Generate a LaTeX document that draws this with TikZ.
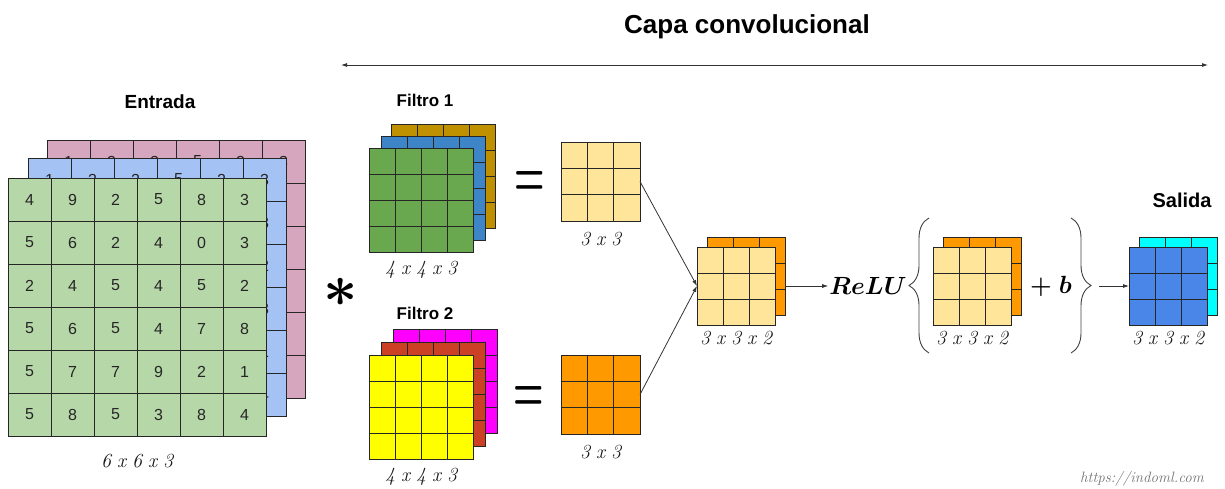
\documentclass[tikz,border=0pt]{standalone}
\usepackage{amsmath, bm}
\usepackage{fontspec}
\setsansfont{Liberation Sans}
\usetikzlibrary{arrows.meta, decorations.pathreplacing, positioning}

\definecolor{inGreen}{HTML}{B6D7A8}
\definecolor{inBlue}{HTML}{A4C2F4}
\definecolor{inPink}{HTML}{D5A6BD}
\definecolor{fGreen}{HTML}{6AA84F}
\definecolor{fBlue}{HTML}{3D85C6}
\definecolor{fGold}{HTML}{BF9000}
\definecolor{fYellow}{HTML}{FFFF00}
\definecolor{fRed}{HTML}{CC4125}
\definecolor{fMagenta}{HTML}{FF00FF}
\definecolor{mapLight}{HTML}{FFE599}
\definecolor{mapOrange}{HTML}{FF9900}
\definecolor{outCyan}{HTML}{00FFFF}
\definecolor{outBlue}{HTML}{4A86E8}

\newcommand{\dimsfont}{\itshape\fontsize{20}{20}\selectfont\spaceskip=6pt\relax}

% one square layer: name, left, top, cells, cell size, colour
\newcommand{\cnnlayer}[6]{%
    \node[fmap, fill=#6, minimum size=#4*#5pt] (#1) at (#2,#3) {};
    \pgfmathtruncatemacro{\lastline}{#4-1}
    \foreach \k in {1,...,\lastline} {
        \draw[gridline] ([xshift=\k*#5pt]#1.north west) -- ([xshift=\k*#5pt]#1.south west);
        \draw[gridline] ([yshift=-\k*#5pt]#1.north west) -- ([yshift=-\k*#5pt]#1.north east);
    }
}

\begin{document}
\begin{tikzpicture}[
        x=1pt, y=-1pt,
        fmap/.style = {draw=black!85, line width=0.9pt, inner sep=0pt, outer sep=0pt, anchor=north west},
        gridline/.style = {draw=black!85, line width=0.9pt},
        num/.style = {font=\sffamily\fontsize{16}{16}\selectfont, text=black!85, inner sep=0pt},
        heading/.style = {font=\sffamily\bfseries\fontsize{19}{19}\selectfont},
        dims/.style = {font=\dimsfont, text=black!90, inner sep=0pt},
        link/.style = {draw=black!80, line width=0.8pt, -{Latex[length=6pt, width=4pt]}},
        bothway/.style = {link, {Latex[length=6pt, width=4pt]}-{Latex[length=6pt, width=4pt]}},
        curly/.style = {draw=black!75, line width=0.9pt, decorate, decoration={brace, amplitude=20pt}},
        bigsym/.style = {inner sep=0pt, font=\fontsize{24}{24}\selectfont}
    ]
    \useasboundingbox (0,0) rectangle (1225,489);

    % titles
    \node[heading, font=\sffamily\bfseries\fontsize{26}{26}\selectfont] (capa) at (747,27) {Capa convolucional};
    \coordinate (capaL) at (341,65);
    \coordinate (capaR) at (1208,65);
    \draw[bothway] (capaL) -- (capaR);
    \node[heading] (entrada) at (160,102) {Entrada};
    \node[heading, font=\sffamily\bfseries\fontsize{17}{17}\selectfont] (filtro1) at (425,100) {Filtro 1};
    \node[heading, font=\sffamily\bfseries\fontsize{17}{17}\selectfont] (filtro2) at (425,313) {Filtro 2};
    \node[heading, font=\sffamily\bfseries\fontsize{20}{20}\selectfont] (salida) at (1182,200) {Salida};

    % input 6x6x3
    \cnnlayer{entrada3}{47}{140}{6}{43}{inPink}
    \foreach \v [count=\c] in {1,3,2,5,3,3}
        \node[num] (e3-\c) at ([xshift=(\c-0.5)*43pt, yshift=-21.5pt]entrada3.north west) {\v};
    \cnnlayer{entrada2}{28}{158}{6}{43}{inBlue}
    \foreach \v [count=\c] in {1,3,2,5,2,3}
        \node[num] (e2-\c) at ([xshift=(\c-0.5)*43pt, yshift=-21.5pt]entrada2.north west) {\v};
    \foreach \v [count=\r] in {3,2,3,1,4}
        \node[num] (e2r-\r) at ([xshift=-21.5pt, yshift=-(\r+0.5)*43pt]entrada2.north east) {\v};
    \cnnlayer{entrada1}{8}{178}{6}{43}{inGreen}
    \foreach \vals [count=\r] in {{4,9,2,5,8,3},{5,6,2,4,0,3},{2,4,5,4,5,2},{5,6,5,4,7,8},{5,7,7,9,2,1},{5,8,5,3,8,4}} {
        \foreach \v [count=\c] in \vals
            \node[num] (e1-\r-\c) at ([xshift=(\c-0.5)*43pt, yshift=-(\r-0.5)*43pt]entrada1.north west) {\v};
    }
    \node[dims, below=18pt of entrada1] (dimEntrada) {6 x 6 x 3};

    \node[bigsym] (conv) at (341,292) {\scalebox{2.4}{$\boldsymbol{\ast}$}};

    % filter 1
    \cnnlayer{filtroA3}{391}{124}{4}{26}{fGold}
    \cnnlayer{filtroA2}{381}{136}{4}{26}{fBlue}
    \cnnlayer{filtroA1}{369}{148}{4}{26}{fGreen}
    \node[dims, below=9pt of filtroA1] (dimFiltroA) {4 x 4 x 3};

    % filter 2
    \cnnlayer{filtroB3}{393}{329}{4}{26}{fMagenta}
    \cnnlayer{filtroB2}{381}{342}{4}{26}{fRed}
    \cnnlayer{filtroB1}{369}{355}{4}{26}{fYellow}
    \node[dims, below=9pt of filtroB1] (dimFiltroB) {4 x 4 x 3};

    \node[bigsym] (igualA) at (530,184) {\scalebox{1.4}[2.6]{$\boldsymbol{=}$}};
    \node[bigsym] (igualB) at (529,399) {\scalebox{1.4}[2.6]{$\boldsymbol{=}$}};

    % 3x3 results
    \cnnlayer{convA}{561}{142}{3}{26.33}{mapLight}
    \node[dims, below=11pt of convA] (dimConvA) {3 x 3};
    \cnnlayer{convB}{561}{355}{3}{26.33}{mapOrange}
    \node[dims, below=11pt of convB] (dimConvB) {3 x 3};

    % stacked 3x3x2
    \cnnlayer{pilaB}{707}{237}{3}{26}{mapOrange}
    \cnnlayer{pilaA}{697}{247}{3}{26}{mapLight}
    \node[dims, below=6pt of pilaA] (dimPila) {3 x 3 x 2};
    \draw[link] (convA.east) -- (pilaA.west);
    \draw[link] (convB.east) -- (pilaA.west);

    % activation
    \node[inner sep=1pt, font=\fontsize{24}{24}\selectfont] (relu) at (868,286) {$\boldsymbol{ReLU}$};
    \draw[link] (pilaA.east -| pilaB.east) -- (relu.west);
    \draw[curly] (929,353) -- (929,218);
    \cnnlayer{reluB}{943}{237}{3}{26}{mapOrange}
    \cnnlayer{reluA}{933}{247}{3}{26}{mapLight}
    \node[dims, below=6pt of reluA] (dimRelu) {3 x 3 x 2};
    \node[inner sep=0pt, font=\fontsize{24}{24}\selectfont] (sesgo) at (1051,286) {$\boldsymbol{+\;b}$};
    \draw[curly] (1071,218) -- (1071,353);
    \coordinate (braceOut) at (1099,286);

    % output
    \cnnlayer{salidaB}{1139}{237}{3}{26}{outCyan}
    \cnnlayer{salidaA}{1129}{247}{3}{26}{outBlue}
    \node[dims, below=6pt of salidaA] (dimSalida) {3 x 3 x 2};
    \draw[link] (braceOut) -- (salidaA.west);

    \node[font=\itshape\fontsize{15}{15}\selectfont, text=black!55] (marca) at (1142,479) {https://indoml.com};
\end{tikzpicture}
\end{document}
